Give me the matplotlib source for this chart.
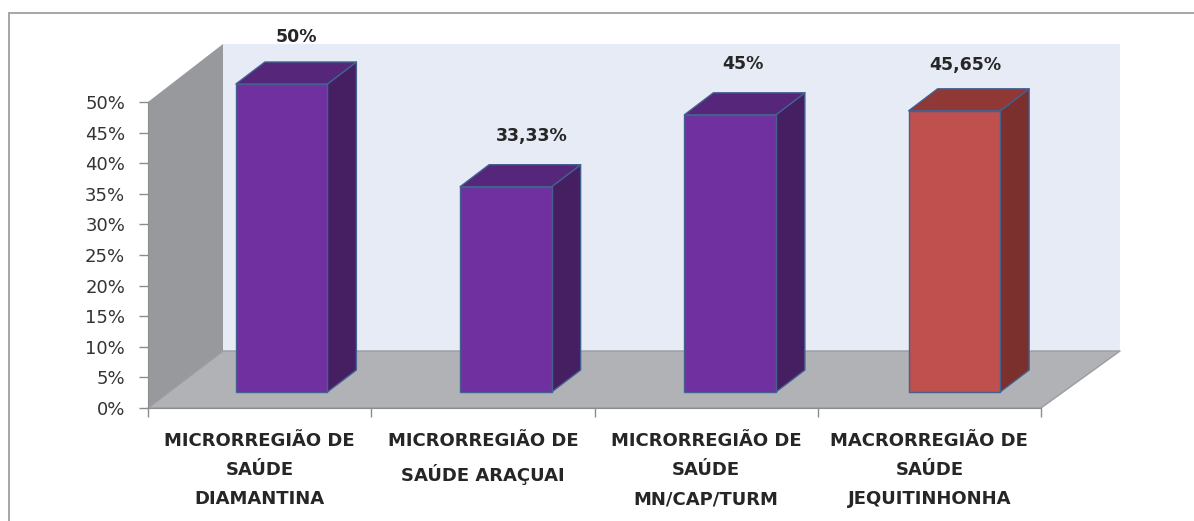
import numpy as np
import matplotlib
matplotlib.use('Agg')
import matplotlib.pyplot as plt
from matplotlib.lines import Line2D
from matplotlib.patches import Polygon

categories = ['MICRORREGIÃO DE\nSAÚDE\nDIAMANTINA',
              'MICRORREGIÃO DE\nSAÚDE ARAÇUAI',
              'MICRORREGIÃO DE\nSAÚDE\nMN/CAP/TURM',
              'MACRORREGIÃO DE\nSAÚDE\nJEQUITINHONHA']
values = [50, 33.33, 45, 45.65]
value_labels = ['50%', '33,33%', '45%', '45,65%']
y_ticks = [0, 5, 10, 15, 20, 25, 30, 35, 40, 45, 50]

W, H = 1194, 521
plt.rcParams['font.family'] = ['DejaVu Sans']

fig = plt.figure(figsize=(W / 100, H / 100), dpi=100)
ax = fig.add_axes([148 / W, 1 - 408 / H, (1041 - 148) / W, (408 - 102) / H])
ax.set_xlim(0, 4)
ax.set_ylim(0, 50)
ax.patch.set_visible(False)

# px -> data helpers for the fake 3d depth
ux = 4 / (1041 - 148)
uy = 50 / (408 - 102)
depth_x = 75 * ux
depth_y = 57 * uy
wall_top = 50 + 58 * uy
wall_right = 4 + 79 * ux
bar_w = 91.5 * ux
bar_off_x = 22 * ux
bar_off_y = 16 * uy
bar_drift = 1 * ux
bar_dx = 29 * ux
bar_dy = 22 * uy
bar_scale = 1.0065

# hand placed data labels, offset from top back edge of the bar (px)
label_dx = [14.5, 25.5, 13, 10.5]
label_dy = [25, 29, 29, 24]

def face(points, color, edge='none', lw=0, z=1):
    ax.add_patch(Polygon(points, closed=True, facecolor=color, edgecolor=edge,
                         linewidth=lw, clip_on=False, zorder=z, joinstyle='round'))

# frame, only top and left are in the picture
frame = '#a6a6a6'
fig.add_artist(Line2D([9 / W, 1], [1 - 12.5 / H, 1 - 12.5 / H], color=frame, linewidth=1.4))
fig.add_artist(Line2D([9 / W, 9 / W], [0, 1 - 12.5 / H], color=frame, linewidth=1.4))

# walls and floor
face([(depth_x, depth_y), (wall_right, depth_y), (wall_right, wall_top), (depth_x, wall_top)], '#e7ebf5')
face([(0, 0), (depth_x, depth_y), (depth_x, wall_top), (0, 50)], '#98999d')
face([(0, 0), (4, 0), (wall_right, depth_y), (depth_x, depth_y)], '#b0b2b6', edge='#9a9c9f', lw=1)

# bars
edge = '#44608f'
for i, v in enumerate(values):
    if i == 3:
        front, top, side = '#c0504d', '#8f3836', '#7b302e'
    else:
        front, top, side = '#70309f', '#552679', '#451f62'
    x0 = i + 0.5 - bar_w / 2 + bar_off_x + i * bar_drift
    x1 = x0 + bar_w
    y0 = bar_off_y
    y1 = y0 + v * bar_scale
    face([(x1, y0), (x1 + bar_dx, y0 + bar_dy), (x1 + bar_dx, y1 + bar_dy), (x1, y1)], side, edge, 1.0, 3)
    face([(x0, y1), (x1, y1), (x1 + bar_dx, y1 + bar_dy), (x0 + bar_dx, y1 + bar_dy)], top, edge, 1.0, 3)
    face([(x0, y0), (x1, y0), (x1, y1), (x0, y1)], front, edge, 1.0, 4)
    ax.text(x0 + bar_w / 2 + label_dx[i] * ux, y1 + bar_dy + label_dy[i] * uy, value_labels[i],
            ha='center', va='center', fontsize=12.5, fontweight='bold', color='#262626', zorder=5)

ax.set_yticks(y_ticks)
ax.set_yticklabels([f'{t}%' for t in y_ticks], fontsize=13, color='#333333')
ax.set_xticks(range(5))
ax.set_xticklabels([])
ax.tick_params(axis='y', length=6.5, width=1, color='#8c8c8c', pad=10)
ax.tick_params(axis='x', length=6.5, width=1, color='#8c8c8c')
for s in ['top', 'right']:
    ax.spines[s].set_visible(False)
for s in ['left', 'bottom']:
    ax.spines[s].set_color('#8c8c8c')
    ax.spines[s].set_zorder(2)

for i, c in enumerate(categories):
    ax.text(i + 0.5, -24 * uy, c, ha='center', va='top', fontsize=13, fontweight='bold',
            color='#262626', linespacing=1.8)

fig.savefig('out.png', dpi=100)
